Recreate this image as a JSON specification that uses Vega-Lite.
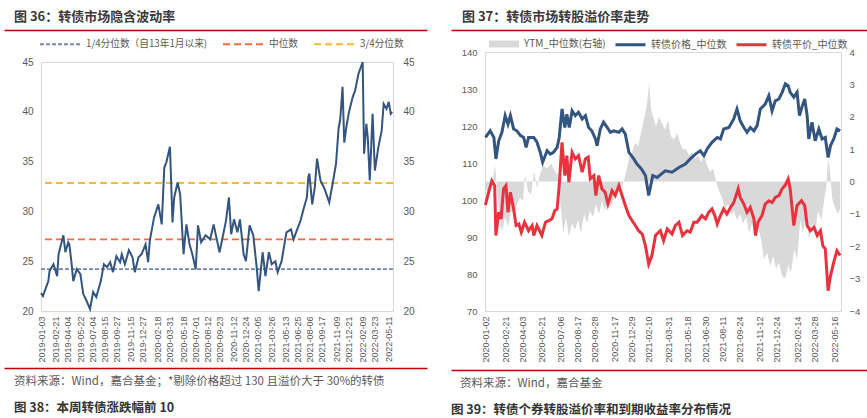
{
  "$schema": "https://vega.github.io/schema/vega-lite/v6.json",
  "padding": {"left": 3, "top": 0, "right": 0, "bottom": 0},
  "background": "white",
  "datasets": {
    "quant": [
      {"name": "1/4分位数（自13年1月以来)", "v": 24.2},
      {"name": "中位数", "v": 27.2},
      {"name": "3/4分位数", "v": 32.85}
    ],
    "iv": [
      {"date": "2019-01-02", "iv": 21.8}, {"date": "2019-01-09", "iv": 21.5}, {"date": "2019-01-28", "iv": 23.0},
      {"date": "2019-02-01", "iv": 24.0}, {"date": "2019-02-15", "iv": 24.7}, {"date": "2019-02-28", "iv": 23.5},
      {"date": "2019-03-05", "iv": 25.7}, {"date": "2019-03-22", "iv": 27.6}, {"date": "2019-03-29", "iv": 25.9},
      {"date": "2019-04-08", "iv": 26.9}, {"date": "2019-04-12", "iv": 26.7}, {"date": "2019-04-19", "iv": 25.0},
      {"date": "2019-04-26", "iv": 23.0}, {"date": "2019-05-08", "iv": 24.2}, {"date": "2019-05-21", "iv": 23.7},
      {"date": "2019-05-31", "iv": 21.7}, {"date": "2019-06-12", "iv": 21.0}, {"date": "2019-06-24", "iv": 20.2},
      {"date": "2019-07-05", "iv": 21.9}, {"date": "2019-07-16", "iv": 21.4}, {"date": "2019-08-01", "iv": 23.0},
      {"date": "2019-08-12", "iv": 24.7}, {"date": "2019-08-23", "iv": 24.4}, {"date": "2019-09-03", "iv": 24.9},
      {"date": "2019-09-13", "iv": 23.9}, {"date": "2019-09-25", "iv": 25.5}, {"date": "2019-10-08", "iv": 24.9},
      {"date": "2019-10-14", "iv": 25.7}, {"date": "2019-10-25", "iv": 24.7}, {"date": "2019-11-08", "iv": 26.1},
      {"date": "2019-11-21", "iv": 25.4}, {"date": "2019-11-29", "iv": 23.9}, {"date": "2019-12-12", "iv": 25.4},
      {"date": "2019-12-23", "iv": 25.7}, {"date": "2020-01-06", "iv": 26.7}, {"date": "2020-01-15", "iv": 24.9},
      {"date": "2020-01-21", "iv": 27.1}, {"date": "2020-02-05", "iv": 29.4}, {"date": "2020-02-20", "iv": 30.7},
      {"date": "2020-03-03", "iv": 28.7}, {"date": "2020-03-12", "iv": 34.4}, {"date": "2020-03-19", "iv": 34.9},
      {"date": "2020-04-01", "iv": 36.5}, {"date": "2020-04-10", "iv": 28.9}, {"date": "2020-04-16", "iv": 31.4},
      {"date": "2020-04-28", "iv": 32.9}, {"date": "2020-05-07", "iv": 31.7}, {"date": "2020-05-19", "iv": 25.7},
      {"date": "2020-05-29", "iv": 28.7}, {"date": "2020-06-09", "iv": 26.7}, {"date": "2020-06-19", "iv": 25.7},
      {"date": "2020-07-01", "iv": 24.2}, {"date": "2020-07-09", "iv": 28.6}, {"date": "2020-07-20", "iv": 26.9},
      {"date": "2020-08-05", "iv": 27.6}, {"date": "2020-08-21", "iv": 27.2}, {"date": "2020-09-02", "iv": 28.7},
      {"date": "2020-09-23", "iv": 25.9}, {"date": "2020-10-16", "iv": 29.1}, {"date": "2020-10-26", "iv": 31.4},
      {"date": "2020-11-03", "iv": 27.7}, {"date": "2020-11-13", "iv": 29.2}, {"date": "2020-11-25", "iv": 27.9},
      {"date": "2020-12-04", "iv": 29.2}, {"date": "2020-12-17", "iv": 25.7}, {"date": "2020-12-25", "iv": 25.0},
      {"date": "2021-01-07", "iv": 28.6}, {"date": "2021-01-20", "iv": 27.6}, {"date": "2021-02-01", "iv": 24.4},
      {"date": "2021-02-08", "iv": 22.0}, {"date": "2021-02-22", "iv": 25.9}, {"date": "2021-03-04", "iv": 23.5},
      {"date": "2021-03-16", "iv": 25.9}, {"date": "2021-03-26", "iv": 24.7}, {"date": "2021-04-08", "iv": 25.0},
      {"date": "2021-04-16", "iv": 23.9}, {"date": "2021-04-30", "iv": 25.0}, {"date": "2021-05-17", "iv": 27.9},
      {"date": "2021-06-02", "iv": 28.2}, {"date": "2021-06-11", "iv": 27.2}, {"date": "2021-06-24", "iv": 28.2},
      {"date": "2021-07-06", "iv": 29.1}, {"date": "2021-07-16", "iv": 30.2}, {"date": "2021-07-28", "iv": 31.4},
      {"date": "2021-08-02", "iv": 33.4}, {"date": "2021-08-06", "iv": 33.8}, {"date": "2021-08-16", "iv": 30.7},
      {"date": "2021-08-25", "iv": 32.4}, {"date": "2021-09-02", "iv": 35.3}, {"date": "2021-09-14", "iv": 33.1},
      {"date": "2021-09-28", "iv": 32.3}, {"date": "2021-10-15", "iv": 30.9}, {"date": "2021-10-27", "iv": 32.8},
      {"date": "2021-11-08", "iv": 34.8}, {"date": "2021-11-17", "iv": 38.3}, {"date": "2021-11-23", "iv": 39.3},
      {"date": "2021-12-01", "iv": 42.5}, {"date": "2021-12-07", "iv": 36.9}, {"date": "2021-12-15", "iv": 38.6},
      {"date": "2021-12-24", "iv": 40.0}, {"date": "2022-01-06", "iv": 41.5}, {"date": "2022-01-14", "iv": 42.1},
      {"date": "2022-01-26", "iv": 43.8}, {"date": "2022-02-10", "iv": 45.0}, {"date": "2022-02-15", "iv": 35.8},
      {"date": "2022-02-23", "iv": 38.8}, {"date": "2022-02-28", "iv": 37.4}, {"date": "2022-03-07", "iv": 33.1},
      {"date": "2022-03-17", "iv": 39.8}, {"date": "2022-03-25", "iv": 34.1}, {"date": "2022-04-06", "iv": 36.4},
      {"date": "2022-04-18", "iv": 38.1}, {"date": "2022-04-25", "iv": 40.8}, {"date": "2022-05-05", "iv": 40.3},
      {"date": "2022-05-13", "iv": 41.0}, {"date": "2022-05-20", "iv": 39.8}, {"date": "2022-05-25", "iv": 40.0}
    ],
    "ytm": [
      {"date": "2020-01-01", "ytm": -0.2}, {"date": "2020-01-11", "ytm": -0.4}, {"date": "2020-01-18", "ytm": -0.1},
      {"date": "2020-01-26", "ytm": 0.5}, {"date": "2020-01-31", "ytm": -0.3}, {"date": "2020-02-07", "ytm": -1.2},
      {"date": "2020-02-12", "ytm": -1.55}, {"date": "2020-02-20", "ytm": -1.1}, {"date": "2020-02-27", "ytm": -1.4},
      {"date": "2020-03-06", "ytm": -0.9}, {"date": "2020-03-13", "ytm": -1.0}, {"date": "2020-03-20", "ytm": -0.7},
      {"date": "2020-03-28", "ytm": -0.5}, {"date": "2020-04-04", "ytm": -0.6}, {"date": "2020-04-09", "ytm": 0.2},
      {"date": "2020-04-17", "ytm": -0.3}, {"date": "2020-04-24", "ytm": -0.4}, {"date": "2020-05-02", "ytm": 0.3},
      {"date": "2020-05-09", "ytm": -0.2}, {"date": "2020-05-16", "ytm": 0.2}, {"date": "2020-05-24", "ytm": 0.5},
      {"date": "2020-06-03", "ytm": 0.4}, {"date": "2020-06-13", "ytm": 0.55}, {"date": "2020-06-23", "ytm": 0.3},
      {"date": "2020-06-30", "ytm": 0.2}, {"date": "2020-07-05", "ytm": -0.5}, {"date": "2020-07-13", "ytm": -1.6},
      {"date": "2020-07-20", "ytm": -1.1}, {"date": "2020-07-27", "ytm": -1.7}, {"date": "2020-08-04", "ytm": -1.3},
      {"date": "2020-08-11", "ytm": -1.5}, {"date": "2020-08-19", "ytm": -1.2}, {"date": "2020-08-26", "ytm": -1.6},
      {"date": "2020-09-03", "ytm": -1.0}, {"date": "2020-09-10", "ytm": -1.3}, {"date": "2020-09-17", "ytm": -0.9},
      {"date": "2020-09-25", "ytm": -1.1}, {"date": "2020-10-02", "ytm": -0.7}, {"date": "2020-10-10", "ytm": -1.0},
      {"date": "2020-10-17", "ytm": -0.6}, {"date": "2020-10-25", "ytm": -0.9}, {"date": "2020-11-01", "ytm": -0.6},
      {"date": "2020-11-09", "ytm": -0.8}, {"date": "2020-11-16", "ytm": -0.5}, {"date": "2020-11-23", "ytm": -0.4},
      {"date": "2020-12-01", "ytm": -0.2}, {"date": "2020-12-08", "ytm": -0.1}, {"date": "2020-12-16", "ytm": 0.3},
      {"date": "2020-12-23", "ytm": 0.7}, {"date": "2020-12-31", "ytm": 0.9}, {"date": "2021-01-07", "ytm": 1.2},
      {"date": "2021-01-15", "ytm": 1.1}, {"date": "2021-01-22", "ytm": 1.5}, {"date": "2021-01-29", "ytm": 1.9},
      {"date": "2021-02-06", "ytm": 2.4}, {"date": "2021-02-11", "ytm": 3.05}, {"date": "2021-02-16", "ytm": 2.2},
      {"date": "2021-02-21", "ytm": 2.0}, {"date": "2021-02-28", "ytm": 1.7}, {"date": "2021-03-08", "ytm": 2.0},
      {"date": "2021-03-15", "ytm": 1.8}, {"date": "2021-03-23", "ytm": 1.6}, {"date": "2021-03-30", "ytm": 1.9},
      {"date": "2021-04-06", "ytm": 1.4}, {"date": "2021-04-14", "ytm": 1.3}, {"date": "2021-04-21", "ytm": 1.5},
      {"date": "2021-04-29", "ytm": 1.2}, {"date": "2021-05-06", "ytm": 1.0}, {"date": "2021-05-14", "ytm": 1.0},
      {"date": "2021-05-21", "ytm": 0.8}, {"date": "2021-05-29", "ytm": 0.9}, {"date": "2021-06-05", "ytm": 0.7},
      {"date": "2021-06-12", "ytm": 0.8}, {"date": "2021-06-20", "ytm": 0.6}, {"date": "2021-06-27", "ytm": 0.8},
      {"date": "2021-07-05", "ytm": 0.5}, {"date": "2021-07-12", "ytm": 0.3}, {"date": "2021-07-20", "ytm": 0.4},
      {"date": "2021-07-27", "ytm": 0.0}, {"date": "2021-08-04", "ytm": -0.3}, {"date": "2021-08-11", "ytm": -0.5},
      {"date": "2021-08-18", "ytm": -0.8}, {"date": "2021-08-26", "ytm": -0.7}, {"date": "2021-09-02", "ytm": -1.0},
      {"date": "2021-09-10", "ytm": -0.9}, {"date": "2021-09-17", "ytm": -1.2}, {"date": "2021-09-25", "ytm": -1.0},
      {"date": "2021-10-02", "ytm": -1.3}, {"date": "2021-10-10", "ytm": -1.1}, {"date": "2021-10-17", "ytm": -1.6},
      {"date": "2021-10-24", "ytm": -1.3}, {"date": "2021-11-01", "ytm": -1.7}, {"date": "2021-11-08", "ytm": -1.4},
      {"date": "2021-11-16", "ytm": -1.8}, {"date": "2021-11-23", "ytm": -2.4}, {"date": "2021-12-01", "ytm": -2.2},
      {"date": "2021-12-08", "ytm": -2.6}, {"date": "2021-12-16", "ytm": -2.3}, {"date": "2021-12-23", "ytm": -2.7},
      {"date": "2021-12-30", "ytm": -2.5}, {"date": "2022-01-07", "ytm": -2.9}, {"date": "2022-01-14", "ytm": -3.0},
      {"date": "2022-01-22", "ytm": -2.6}, {"date": "2022-01-29", "ytm": -2.8}, {"date": "2022-02-06", "ytm": -2.1},
      {"date": "2022-02-13", "ytm": -2.4}, {"date": "2022-02-21", "ytm": -1.2}, {"date": "2022-02-28", "ytm": -1.6},
      {"date": "2022-03-07", "ytm": -1.0}, {"date": "2022-03-15", "ytm": -1.8}, {"date": "2022-03-22", "ytm": -1.3},
      {"date": "2022-03-30", "ytm": -1.6}, {"date": "2022-04-06", "ytm": -0.9}, {"date": "2022-04-14", "ytm": -1.2},
      {"date": "2022-04-21", "ytm": -0.6}, {"date": "2022-04-26", "ytm": -0.2}, {"date": "2022-05-01", "ytm": 0.7},
      {"date": "2022-05-06", "ytm": 0.3}, {"date": "2022-05-11", "ytm": -0.5}, {"date": "2022-05-18", "ytm": -0.8},
      {"date": "2022-05-26", "ytm": -1.0}, {"date": "2022-05-31", "ytm": -0.8}
    ],
    "bond": [
      {"date": "2020-01-02", "series": "转债价格_中位数", "value": 116.9}, {"date": "2020-01-14", "series": "转债价格_中位数", "value": 118.7},
      {"date": "2020-01-23", "series": "转债价格_中位数", "value": 116.9}, {"date": "2020-01-28", "series": "转债价格_中位数", "value": 111.1},
      {"date": "2020-02-04", "series": "转债价格_中位数", "value": 116.0}, {"date": "2020-02-12", "series": "转债价格_中位数", "value": 118.3},
      {"date": "2020-02-20", "series": "转债价格_中位数", "value": 122.8}, {"date": "2020-02-27", "series": "转债价格_中位数", "value": 120.5},
      {"date": "2020-03-04", "series": "转债价格_中位数", "value": 122.8}, {"date": "2020-03-12", "series": "转债价格_中位数", "value": 119.2},
      {"date": "2020-03-20", "series": "转债价格_中位数", "value": 118.7}, {"date": "2020-03-29", "series": "转债价格_中位数", "value": 117.4},
      {"date": "2020-04-06", "series": "转债价格_中位数", "value": 116.9}, {"date": "2020-04-12", "series": "转债价格_中位数", "value": 114.2},
      {"date": "2020-04-18", "series": "转债价格_中位数", "value": 116.9}, {"date": "2020-05-01", "series": "转债价格_中位数", "value": 116.9},
      {"date": "2020-05-09", "series": "转债价格_中位数", "value": 115.6}, {"date": "2020-05-17", "series": "转债价格_中位数", "value": 112.9},
      {"date": "2020-05-23", "series": "转债价格_中位数", "value": 110.2}, {"date": "2020-06-03", "series": "转债价格_中位数", "value": 113.3},
      {"date": "2020-06-11", "series": "转债价格_中位数", "value": 112.4}, {"date": "2020-06-19", "series": "转债价格_中位数", "value": 112.9},
      {"date": "2020-06-28", "series": "转债价格_中位数", "value": 114.2}, {"date": "2020-07-03", "series": "转债价格_中位数", "value": 116.9},
      {"date": "2020-07-10", "series": "转债价格_中位数", "value": 124.6}, {"date": "2020-07-17", "series": "转债价格_中位数", "value": 119.6},
      {"date": "2020-07-22", "series": "转债价格_中位数", "value": 123.2}, {"date": "2020-07-28", "series": "转债价格_中位数", "value": 119.6},
      {"date": "2020-08-04", "series": "转债价格_中位数", "value": 124.1}, {"date": "2020-08-12", "series": "转债价格_中位数", "value": 122.8},
      {"date": "2020-08-20", "series": "转债价格_中位数", "value": 123.7}, {"date": "2020-08-29", "series": "转债价格_中位数", "value": 121.9},
      {"date": "2020-09-06", "series": "转债价格_中位数", "value": 122.8}, {"date": "2020-09-14", "series": "转债价格_中位数", "value": 119.6},
      {"date": "2020-09-22", "series": "转债价格_中位数", "value": 118.7}, {"date": "2020-10-01", "series": "转债价格_中位数", "value": 116.5},
      {"date": "2020-10-05", "series": "转债价格_中位数", "value": 114.7}, {"date": "2020-10-13", "series": "转债价格_中位数", "value": 119.2},
      {"date": "2020-10-21", "series": "转债价格_中位数", "value": 121.0}, {"date": "2020-10-30", "series": "转债价格_中位数", "value": 119.6},
      {"date": "2020-11-07", "series": "转债价格_中位数", "value": 118.3}, {"date": "2020-11-15", "series": "转债价格_中位数", "value": 118.7},
      {"date": "2020-11-28", "series": "转债价格_中位数", "value": 118.3}, {"date": "2020-12-06", "series": "转债价格_中位数", "value": 119.2},
      {"date": "2020-12-14", "series": "转债价格_中位数", "value": 117.8}, {"date": "2020-12-23", "series": "转债价格_中位数", "value": 112.9},
      {"date": "2021-01-04", "series": "转债价格_中位数", "value": 111.1}, {"date": "2021-01-12", "series": "转债价格_中位数", "value": 109.7},
      {"date": "2021-01-23", "series": "转债价格_中位数", "value": 108.4}, {"date": "2021-02-02", "series": "转债价格_中位数", "value": 106.6},
      {"date": "2021-02-10", "series": "转债价格_中位数", "value": 101.2}, {"date": "2021-02-20", "series": "转债价格_中位数", "value": 106.6},
      {"date": "2021-03-03", "series": "转债价格_中位数", "value": 106.1}, {"date": "2021-03-13", "series": "转债价格_中位数", "value": 107.0},
      {"date": "2021-03-23", "series": "转债价格_中位数", "value": 107.9}, {"date": "2021-04-09", "series": "转债价格_中位数", "value": 107.5},
      {"date": "2021-04-26", "series": "转债价格_中位数", "value": 108.8}, {"date": "2021-05-12", "series": "转债价格_中位数", "value": 109.7},
      {"date": "2021-05-24", "series": "转债价格_中位数", "value": 111.1}, {"date": "2021-06-06", "series": "转债价格_中位数", "value": 112.4},
      {"date": "2021-06-18", "series": "转债价格_中位数", "value": 113.3}, {"date": "2021-06-27", "series": "转债价格_中位数", "value": 112.0},
      {"date": "2021-07-05", "series": "转债价格_中位数", "value": 113.8}, {"date": "2021-07-17", "series": "转债价格_中位数", "value": 115.6},
      {"date": "2021-07-30", "series": "转债价格_中位数", "value": 116.9}, {"date": "2021-08-07", "series": "转债价格_中位数", "value": 116.5},
      {"date": "2021-08-15", "series": "转债价格_中位数", "value": 119.2}, {"date": "2021-08-28", "series": "转债价格_中位数", "value": 119.6},
      {"date": "2021-09-09", "series": "转债价格_中位数", "value": 121.9}, {"date": "2021-09-17", "series": "转债价格_中位数", "value": 124.6},
      {"date": "2021-09-25", "series": "转债价格_中位数", "value": 121.4}, {"date": "2021-10-04", "series": "转债价格_中位数", "value": 119.6},
      {"date": "2021-10-12", "series": "转债价格_中位数", "value": 118.3}, {"date": "2021-10-20", "series": "转债价格_中位数", "value": 119.6},
      {"date": "2021-10-29", "series": "转债价格_中位数", "value": 118.7}, {"date": "2021-11-06", "series": "转债价格_中位数", "value": 120.1},
      {"date": "2021-11-14", "series": "转债价格_中位数", "value": 124.6}, {"date": "2021-11-26", "series": "转债价格_中位数", "value": 125.9},
      {"date": "2021-12-05", "series": "转债价格_中位数", "value": 128.2}, {"date": "2021-12-13", "series": "转债价格_中位数", "value": 124.1},
      {"date": "2021-12-21", "series": "转债价格_中位数", "value": 126.8}, {"date": "2021-12-30", "series": "转债价格_中位数", "value": 127.3},
      {"date": "2022-01-07", "series": "转债价格_中位数", "value": 129.1}, {"date": "2022-01-15", "series": "转债价格_中位数", "value": 131.4},
      {"date": "2022-01-22", "series": "转债价格_中位数", "value": 130.9}, {"date": "2022-01-27", "series": "转债价格_中位数", "value": 129.1},
      {"date": "2022-02-05", "series": "转债价格_中位数", "value": 127.8}, {"date": "2022-02-13", "series": "转债价格_中位数", "value": 129.1},
      {"date": "2022-02-19", "series": "转债价格_中位数", "value": 122.8}, {"date": "2022-02-25", "series": "转债价格_中位数", "value": 125.1},
      {"date": "2022-03-04", "series": "转债价格_中位数", "value": 127.3}, {"date": "2022-03-10", "series": "转债价格_中位数", "value": 122.8},
      {"date": "2022-03-14", "series": "转债价格_中位数", "value": 116.5}, {"date": "2022-03-22", "series": "转债价格_中位数", "value": 121.0},
      {"date": "2022-03-30", "series": "转债价格_中位数", "value": 116.0}, {"date": "2022-04-08", "series": "转债价格_中位数", "value": 119.2},
      {"date": "2022-04-16", "series": "转债价格_中位数", "value": 116.5}, {"date": "2022-04-24", "series": "转债价格_中位数", "value": 116.9},
      {"date": "2022-05-01", "series": "转债价格_中位数", "value": 111.5}, {"date": "2022-05-07", "series": "转债价格_中位数", "value": 114.7},
      {"date": "2022-05-15", "series": "转债价格_中位数", "value": 116.5}, {"date": "2022-05-23", "series": "转债价格_中位数", "value": 119.2},
      {"date": "2022-05-31", "series": "转债价格_中位数", "value": 118.7},
      {"date": "2020-01-02", "series": "转债平价_中位数", "value": 98.6}, {"date": "2020-01-10", "series": "转债平价_中位数", "value": 102.1},
      {"date": "2020-01-18", "series": "转债平价_中位数", "value": 105.2}, {"date": "2020-01-25", "series": "转债平价_中位数", "value": 103.9},
      {"date": "2020-01-28", "series": "转债平价_中位数", "value": 90.4}, {"date": "2020-02-04", "series": "转债平价_中位数", "value": 96.7},
      {"date": "2020-02-10", "series": "转债平价_中位数", "value": 94.9}, {"date": "2020-02-16", "series": "转债平价_中位数", "value": 103.0},
      {"date": "2020-02-22", "series": "转债平价_中位数", "value": 103.9}, {"date": "2020-02-27", "series": "转债平价_中位数", "value": 96.7},
      {"date": "2020-03-04", "series": "转债平价_中位数", "value": 102.1}, {"date": "2020-03-12", "series": "转债平价_中位数", "value": 97.6},
      {"date": "2020-03-18", "series": "转债平价_中位数", "value": 93.1}, {"date": "2020-03-25", "series": "转债平价_中位数", "value": 93.5},
      {"date": "2020-03-31", "series": "转债平价_中位数", "value": 91.3}, {"date": "2020-04-08", "series": "转债平价_中位数", "value": 94.0},
      {"date": "2020-04-18", "series": "转债平价_中位数", "value": 91.7}, {"date": "2020-04-27", "series": "转债平价_中位数", "value": 93.1},
      {"date": "2020-05-01", "series": "转债平价_中位数", "value": 90.4}, {"date": "2020-05-09", "series": "转债平价_中位数", "value": 93.1},
      {"date": "2020-05-21", "series": "转债平价_中位数", "value": 90.4}, {"date": "2020-05-30", "series": "转债平价_中位数", "value": 94.0},
      {"date": "2020-06-07", "series": "转债平价_中位数", "value": 94.4}, {"date": "2020-06-15", "series": "转债平价_中位数", "value": 94.9},
      {"date": "2020-06-22", "series": "转债平价_中位数", "value": 97.1}, {"date": "2020-06-28", "series": "转债平价_中位数", "value": 97.6},
      {"date": "2020-07-03", "series": "转债平价_中位数", "value": 103.9}, {"date": "2020-07-10", "series": "转债平价_中位数", "value": 115.6},
      {"date": "2020-07-17", "series": "转债平价_中位数", "value": 106.6}, {"date": "2020-07-22", "series": "转债平价_中位数", "value": 112.0},
      {"date": "2020-07-27", "series": "转债平价_中位数", "value": 104.8}, {"date": "2020-08-04", "series": "转债平价_中位数", "value": 112.9},
      {"date": "2020-08-12", "series": "转债平价_中位数", "value": 111.1}, {"date": "2020-08-20", "series": "转债平价_中位数", "value": 112.0},
      {"date": "2020-08-29", "series": "转债平价_中位数", "value": 107.5}, {"date": "2020-09-06", "series": "转债平价_中位数", "value": 111.1},
      {"date": "2020-09-13", "series": "转债平价_中位数", "value": 111.6}, {"date": "2020-09-18", "series": "转债平价_中位数", "value": 105.7},
      {"date": "2020-09-27", "series": "转债平价_中位数", "value": 106.6}, {"date": "2020-10-02", "series": "转债平价_中位数", "value": 101.2},
      {"date": "2020-10-09", "series": "转债平价_中位数", "value": 106.6}, {"date": "2020-10-17", "series": "转债平价_中位数", "value": 103.0},
      {"date": "2020-10-25", "series": "转债平价_中位数", "value": 102.1}, {"date": "2020-11-01", "series": "转债平价_中位数", "value": 98.9},
      {"date": "2020-11-11", "series": "转债平价_中位数", "value": 102.5}, {"date": "2020-11-19", "series": "转债平价_中位数", "value": 101.2},
      {"date": "2020-11-28", "series": "转债平价_中位数", "value": 103.9}, {"date": "2020-12-06", "series": "转债平价_中位数", "value": 101.2},
      {"date": "2020-12-14", "series": "转债平价_中位数", "value": 98.5}, {"date": "2020-12-23", "series": "转债平价_中位数", "value": 95.8},
      {"date": "2020-12-31", "series": "转债平价_中位数", "value": 94.4}, {"date": "2021-01-08", "series": "转债平价_中位数", "value": 93.1},
      {"date": "2021-01-16", "series": "转债平价_中位数", "value": 91.7}, {"date": "2021-01-25", "series": "转债平价_中位数", "value": 90.8},
      {"date": "2021-02-02", "series": "转债平价_中位数", "value": 87.6}, {"date": "2021-02-10", "series": "转债平价_中位数", "value": 82.7},
      {"date": "2021-02-18", "series": "转债平价_中位数", "value": 85.0}, {"date": "2021-02-27", "series": "转债平价_中位数", "value": 90.4},
      {"date": "2021-03-07", "series": "转债平价_中位数", "value": 91.3}, {"date": "2021-03-11", "series": "转债平价_中位数", "value": 91.7},
      {"date": "2021-03-19", "series": "转债平价_中位数", "value": 89.0}, {"date": "2021-03-28", "series": "转债平价_中位数", "value": 92.2},
      {"date": "2021-04-09", "series": "转债平价_中位数", "value": 90.8}, {"date": "2021-04-17", "series": "转债平价_中位数", "value": 93.1},
      {"date": "2021-04-26", "series": "转债平价_中位数", "value": 94.0}, {"date": "2021-05-05", "series": "转债平价_中位数", "value": 90.4},
      {"date": "2021-05-16", "series": "转债平价_中位数", "value": 91.7}, {"date": "2021-05-24", "series": "转债平价_中位数", "value": 91.3},
      {"date": "2021-06-02", "series": "转债平价_中位数", "value": 94.0}, {"date": "2021-06-10", "series": "转债平价_中位数", "value": 94.0},
      {"date": "2021-06-22", "series": "转债平价_中位数", "value": 95.8}, {"date": "2021-07-01", "series": "转债平价_中位数", "value": 94.9},
      {"date": "2021-07-09", "series": "转债平价_中位数", "value": 96.7}, {"date": "2021-07-17", "series": "转债平价_中位数", "value": 97.6},
      {"date": "2021-07-24", "series": "转债平价_中位数", "value": 95.8}, {"date": "2021-07-30", "series": "转债平价_中位数", "value": 93.5},
      {"date": "2021-08-07", "series": "转债平价_中位数", "value": 95.8}, {"date": "2021-08-15", "series": "转债平价_中位数", "value": 97.6},
      {"date": "2021-08-23", "series": "转债平价_中位数", "value": 96.2}, {"date": "2021-09-01", "series": "转债平价_中位数", "value": 98.0},
      {"date": "2021-09-09", "series": "转债平价_中位数", "value": 99.3}, {"date": "2021-09-20", "series": "转债平价_中位数", "value": 103.0},
      {"date": "2021-09-25", "series": "转债平价_中位数", "value": 100.7}, {"date": "2021-10-04", "series": "转债平价_中位数", "value": 98.9},
      {"date": "2021-10-12", "series": "转债平价_中位数", "value": 96.7}, {"date": "2021-10-20", "series": "转债平价_中位数", "value": 98.0},
      {"date": "2021-10-29", "series": "转债平价_中位数", "value": 94.9}, {"date": "2021-11-02", "series": "转债平价_中位数", "value": 90.4},
      {"date": "2021-11-08", "series": "转债平价_中位数", "value": 94.0}, {"date": "2021-11-18", "series": "转债平价_中位数", "value": 95.8},
      {"date": "2021-11-26", "series": "转债平价_中位数", "value": 98.9}, {"date": "2021-12-05", "series": "转债平价_中位数", "value": 99.8},
      {"date": "2021-12-13", "series": "转债平价_中位数", "value": 99.3}, {"date": "2021-12-21", "series": "转债平价_中位数", "value": 100.7},
      {"date": "2021-12-30", "series": "转债平价_中位数", "value": 101.2}, {"date": "2022-01-07", "series": "转债平价_中位数", "value": 103.0},
      {"date": "2022-01-14", "series": "转债平价_中位数", "value": 103.9}, {"date": "2022-01-22", "series": "转债平价_中位数", "value": 105.7},
      {"date": "2022-01-27", "series": "转债平价_中位数", "value": 103.0}, {"date": "2022-02-05", "series": "转债平价_中位数", "value": 93.1},
      {"date": "2022-02-13", "series": "转债平价_中位数", "value": 98.5}, {"date": "2022-02-24", "series": "转债平价_中位数", "value": 99.8},
      {"date": "2022-03-04", "series": "转债平价_中位数", "value": 98.5}, {"date": "2022-03-10", "series": "转债平价_中位数", "value": 93.1},
      {"date": "2022-03-18", "series": "转债平价_中位数", "value": 91.7}, {"date": "2022-03-27", "series": "转债平价_中位数", "value": 92.6},
      {"date": "2022-04-04", "series": "转债平价_中位数", "value": 90.4}, {"date": "2022-04-12", "series": "转债平价_中位数", "value": 91.7},
      {"date": "2022-04-18", "series": "转债平价_中位数", "value": 87.6}, {"date": "2022-04-24", "series": "转债平价_中位数", "value": 86.8},
      {"date": "2022-05-01", "series": "转债平价_中位数", "value": 75.5}, {"date": "2022-05-07", "series": "转债平价_中位数", "value": 79.5},
      {"date": "2022-05-15", "series": "转债平价_中位数", "value": 83.2}, {"date": "2022-05-23", "series": "转债平价_中位数", "value": 86.3},
      {"date": "2022-05-31", "series": "转债平价_中位数", "value": 85.0}
    ]
  },
  "spacing": 23,
  "resolve": {
    "scale": {"color": "independent", "strokeDash": "independent", "fill": "independent", "stroke": "independent"},
    "legend": {"color": "independent", "strokeDash": "independent", "fill": "independent", "stroke": "independent"}
  },
  "hconcat": [
    {
      "spacing": 5,
      "resolve": {
        "scale": {"color": "independent", "strokeDash": "independent"},
        "legend": {"color": "independent", "strokeDash": "independent"}
      },
      "vconcat": [
        {
          "width": 386, "height": 30,
          "view": {"stroke": null},
          "data": {"values": [{"pos": 0, "t": "图 36：转债市场隐含波动率"}]},
          "mark": {"type": "text", "align": "left", "baseline": "middle", "dx": -27, "dy": 2, "font": "Noto Sans CJK SC", "fontWeight": "bold", "fontSize": 13, "color": "#3a3a3a"},
          "encoding": {
            "x": {"field": "pos", "type": "quantitative", "scale": {"domain": [0, 1], "range": [0, 423], "nice": false}, "axis": {"position": -37, "domain": true, "domainColor": "#c00000", "domainWidth": 1.5, "labels": false, "ticks": false, "grid": false, "title": null}},
            "text": {"field": "t", "type": "nominal"}
          }
        },
        {
          "width": 352, "height": 249,
          "view": {"stroke": "#d9d9d9"},
          "layer": [
            {
              "data": {"name": "quant"},
              "mark": {"type": "rule", "strokeWidth": 1.8},
              "encoding": {
                "y": {"field": "v", "type": "quantitative", "scale": {"domain": [20, 45], "nice": false, "zero": false},
                      "axis": {"orient": "left", "values": [20, 25, 30, 35, 40, 45], "labelPadding": 8, "minExtent": 37, "labelFontSize": 10}},
                "color": {"field": "name", "type": "nominal",
                          "scale": {"domain": ["1/4分位数（自13年1月以来)", "中位数", "3/4分位数"], "range": ["#7388ab", "#f26b43", "#f8b939"]},
                          "legend": {"orient": "top", "direction": "horizontal", "title": null, "symbolType": "M-3,0H3", "symbolSize": 196, "symbolStrokeWidth": 2, "symbolOffset": 12, "labelOffset": 17, "columnPadding": 11, "offset": 13, "labelFontSize": 9.7}},
                "strokeDash": {"field": "name", "type": "nominal",
                          "scale": {"domain": ["1/4分位数（自13年1月以来)", "中位数", "3/4分位数"], "range": [[4, 2], [7, 4], [7, 4]]},
                          "legend": {"orient": "top", "direction": "horizontal", "title": null, "symbolType": "M-3,0H3", "symbolSize": 196, "symbolStrokeWidth": 2, "symbolOffset": 12, "labelOffset": 17, "columnPadding": 11, "offset": 13, "labelFontSize": 9.7}}
              }
            },
            {
              "data": {"name": "iv"},
              "mark": {"type": "line", "color": "#34557f", "strokeWidth": 2},
              "encoding": {
                "x": {"field": "date", "type": "temporal",
                      "scale": {"type": "utc", "domain": [{"year": 2019, "month": 1, "date": 2, "utc": true}, {"year": 2022, "month": 5, "date": 28, "utc": true}]},
                      "axis": {"format": "%Y-%m-%d", "labelAngle": -90, "labelFontSize": 9, "labelPadding": 5, "labelOverlap": false,
                               "values": [
                                 {"year": 2019, "month": 1, "date": 3, "utc": true}, {"year": 2019, "month": 2, "date": 21, "utc": true},
                                 {"year": 2019, "month": 4, "date": 4, "utc": true}, {"year": 2019, "month": 5, "date": 22, "utc": true},
                                 {"year": 2019, "month": 7, "date": 4, "utc": true}, {"year": 2019, "month": 8, "date": 15, "utc": true},
                                 {"year": 2019, "month": 9, "date": 27, "utc": true}, {"year": 2019, "month": 11, "date": 15, "utc": true},
                                 {"year": 2019, "month": 12, "date": 27, "utc": true}, {"year": 2020, "month": 2, "date": 18, "utc": true},
                                 {"year": 2020, "month": 3, "date": 31, "utc": true}, {"year": 2020, "month": 5, "date": 18, "utc": true},
                                 {"year": 2020, "month": 7, "date": 1, "utc": true}, {"year": 2020, "month": 8, "date": 12, "utc": true},
                                 {"year": 2020, "month": 9, "date": 23, "utc": true}, {"year": 2020, "month": 11, "date": 12, "utc": true},
                                 {"year": 2020, "month": 12, "date": 24, "utc": true}, {"year": 2021, "month": 2, "date": 5, "utc": true},
                                 {"year": 2021, "month": 3, "date": 26, "utc": true}, {"year": 2021, "month": 5, "date": 13, "utc": true},
                                 {"year": 2021, "month": 6, "date": 25, "utc": true}, {"year": 2021, "month": 8, "date": 6, "utc": true},
                                 {"year": 2021, "month": 9, "date": 17, "utc": true}, {"year": 2021, "month": 11, "date": 9, "utc": true},
                                 {"year": 2021, "month": 12, "date": 21, "utc": true}, {"year": 2022, "month": 2, "date": 9, "utc": true},
                                 {"year": 2022, "month": 3, "date": 23, "utc": true}, {"year": 2022, "month": 5, "date": 11, "utc": true}
                               ]}},
                "y": {"field": "iv", "type": "quantitative", "scale": {"domain": [20, 45], "nice": false, "zero": false},
                      "axis": {"orient": "right", "values": [20, 25, 30, 35, 40, 45], "labelPadding": 10, "labelFontSize": 10}}
              }
            }
          ],
          "resolve": {"axis": {"y": "independent"}}
        },
        {
          "width": 386, "height": 50,
          "view": {"stroke": null},
          "data": {"values": [
            {"pos": 0, "row": "a", "t": "资料来源：Wind，嘉合基金；*剔除价格超过 130 且溢价大于 30%的转债"},
            {"pos": 0, "row": "b", "t": "图 38：本周转债涨跌幅前 10"}
          ]},
          "encoding": {
            "x": {"field": "pos", "type": "quantitative", "scale": {"domain": [0, 1], "range": [0, 423], "nice": false}, "axis": {"orient": "top", "position": -37, "domain": true, "domainColor": "#c00000", "domainWidth": 1.5, "labels": false, "ticks": false, "grid": false, "title": null}},
            "y": {"field": "row", "type": "ordinal", "axis": null, "scale": {"type": "point", "padding": 0.5}},
            "text": {"field": "t", "type": "nominal"}
          },
          "layer": [
            {"transform": [{"filter": "datum.row === 'a'"}], "mark": {"type": "text", "align": "left", "baseline": "middle", "dx": -27, "dy": 1, "fontSize": 11.5, "font": "Noto Sans CJK SC", "color": "#595959"}},
            {"transform": [{"filter": "datum.row === 'b'"}], "mark": {"type": "text", "align": "left", "baseline": "middle", "dx": -27, "dy": 2, "fontSize": 12.5, "fontWeight": "bold", "font": "Noto Sans CJK SC", "color": "#333333"}}
          ]
        }
      ]
    },
    {
      "spacing": 7,
      "resolve": {
        "scale": {"fill": "independent", "stroke": "independent"},
        "legend": {"fill": "independent", "stroke": "independent"}
      },
      "vconcat": [
        {
          "width": 384, "height": 30,
          "view": {"stroke": null},
          "data": {"values": [{"pos": 0, "t": "图 37：转债市场转股溢价率走势"}]},
          "mark": {"type": "text", "align": "left", "baseline": "middle", "dx": -23, "dy": 2, "font": "Noto Sans CJK SC", "fontWeight": "bold", "fontSize": 13, "color": "#3a3a3a"},
          "encoding": {
            "x": {"field": "pos", "type": "quantitative", "scale": {"domain": [0, 1], "range": [0, 418], "nice": false}, "axis": {"position": -34, "domain": true, "domainColor": "#c00000", "domainWidth": 1.5, "labels": false, "ticks": false, "grid": false, "title": null}},
            "text": {"field": "t", "type": "nominal"}
          }
        },
        {
          "width": 356, "height": 259,
          "view": {"stroke": "#d9d9d9"},
          "encoding": {
            "x": {"field": "date", "type": "temporal",
                  "scale": {"type": "utc", "domain": [{"year": 2020, "month": 1, "date": 1, "utc": true}, {"year": 2022, "month": 6, "date": 2, "utc": true}]},
                  "axis": {"format": "%Y-%m-%d", "labelAngle": -90, "labelFontSize": 9, "labelPadding": 5, "labelOverlap": false,
                           "values": [
                             {"year": 2020, "month": 1, "date": 2, "utc": true}, {"year": 2020, "month": 2, "date": 21, "utc": true},
                             {"year": 2020, "month": 4, "date": 3, "utc": true}, {"year": 2020, "month": 5, "date": 21, "utc": true},
                             {"year": 2020, "month": 7, "date": 6, "utc": true}, {"year": 2020, "month": 8, "date": 17, "utc": true},
                             {"year": 2020, "month": 9, "date": 28, "utc": true}, {"year": 2020, "month": 11, "date": 17, "utc": true},
                             {"year": 2020, "month": 12, "date": 29, "utc": true}, {"year": 2021, "month": 2, "date": 10, "utc": true},
                             {"year": 2021, "month": 3, "date": 31, "utc": true}, {"year": 2021, "month": 5, "date": 18, "utc": true},
                             {"year": 2021, "month": 6, "date": 30, "utc": true}, {"year": 2021, "month": 8, "date": 11, "utc": true},
                             {"year": 2021, "month": 9, "date": 24, "utc": true}, {"year": 2021, "month": 11, "date": 12, "utc": true},
                             {"year": 2021, "month": 12, "date": 24, "utc": true}, {"year": 2022, "month": 2, "date": 14, "utc": true},
                             {"year": 2022, "month": 3, "date": 28, "utc": true}, {"year": 2022, "month": 5, "date": 16, "utc": true}
                           ]}}
          },
          "layer": [
            {
              "data": {"name": "ytm"},
              "mark": {"type": "area", "opacity": 1},
              "encoding": {
                "y": {"field": "ytm", "type": "quantitative", "stack": null, "scale": {"domain": [-4, 4], "nice": false},
                      "axis": {"orient": "right", "values": [-4, -3, -2, -1, 0, 1, 2, 3, 4], "labelPadding": 8, "labelFontSize": 9.5}},
                "y2": {"datum": 0},
                "fill": {"datum": "YTM_中位数(右轴)", "type": "nominal", "scale": {"range": ["#d9d9d9"]},
                         "legend": {"orient": "top", "direction": "horizontal", "title": null, "symbolType": "M-3,-0.7H3V0.7H-3Z", "symbolSize": 100, "symbolOffset": 13, "labelOffset": 14, "offset": 1, "labelFontSize": 10}}
              }
            },
            {
              "data": {"name": "bond"},
              "mark": {"type": "line", "strokeWidth": 3},
              "encoding": {
                "y": {"field": "value", "type": "quantitative", "scale": {"domain": [70, 140], "nice": false, "zero": false},
                      "axis": {"orient": "left", "values": [70, 80, 90, 100, 110, 120, 130, 140], "labelPadding": 8, "minExtent": 34, "labelFontSize": 9.5}},
                "stroke": {"field": "series", "type": "nominal",
                           "scale": {"domain": ["转债价格_中位数", "转债平价_中位数"], "range": ["#34557f", "#e8333f"]},
                           "legend": {"orient": "top", "direction": "horizontal", "title": null, "symbolType": "M-3,0H3", "symbolSize": 100, "symbolStrokeWidth": 3, "symbolOffset": 10, "labelOffset": 14, "columnPadding": 3, "offset": 1, "labelFontSize": 10}}
              }
            }
          ],
          "resolve": {"scale": {"y": "independent"}}
        },
        {
          "width": 384, "height": 50,
          "view": {"stroke": null},
          "data": {"values": [
            {"pos": 0, "row": "a", "t": "资料来源：Wind，嘉合基金"},
            {"pos": 0, "row": "b", "t": "图 39：转债个券转股溢价率和到期收益率分布情况"}
          ]},
          "encoding": {
            "x": {"field": "pos", "type": "quantitative", "scale": {"domain": [0, 1], "range": [0, 418], "nice": false}, "axis": {"orient": "top", "position": -34, "domain": true, "domainColor": "#c00000", "domainWidth": 1.5, "labels": false, "ticks": false, "grid": false, "title": null}},
            "y": {"field": "row", "type": "ordinal", "axis": null, "scale": {"type": "point", "padding": 0.5}},
            "text": {"field": "t", "type": "nominal"}
          },
          "layer": [
            {"transform": [{"filter": "datum.row === 'a'"}], "mark": {"type": "text", "align": "left", "baseline": "middle", "dx": -25, "dy": 1, "fontSize": 11.5, "font": "Noto Sans CJK SC", "color": "#595959"}},
            {"transform": [{"filter": "datum.row === 'b'"}], "mark": {"type": "text", "align": "left", "baseline": "middle", "dx": -34, "dy": 2, "fontSize": 12.5, "fontWeight": "bold", "font": "Noto Sans CJK SC", "color": "#333333"}}
          ]
        }
      ]
    }
  ],
  "config": {
    "font": "Liberation Sans",
    "view": {"stroke": null},
    "axis": {"labelColor": "#595959", "labelFont": "Liberation Sans", "domain": false, "ticks": false, "grid": false, "title": null},
    "legend": {"labelFont": "Noto Sans CJK SC", "labelColor": "#595959", "labelFontSize": 10}
  }
}
